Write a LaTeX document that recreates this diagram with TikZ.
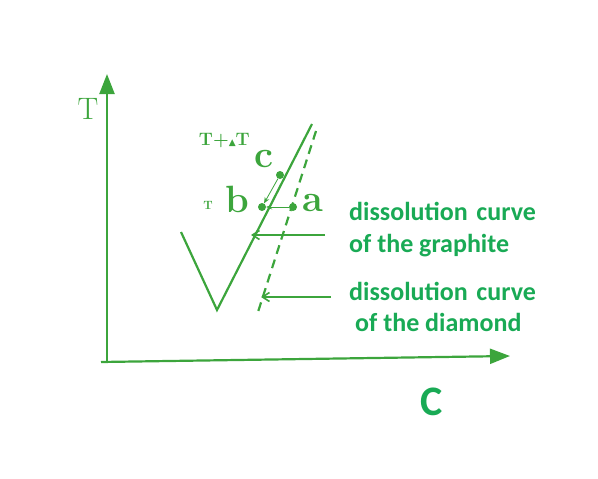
\documentclass[tikz,border=0pt]{standalone}
\usepackage{fontspec}
\newfontfamily\labelfont{Carlito}
\newfontfamily\symfont{DejaVu Sans}
\usetikzlibrary{arrows.meta}
\definecolor{lgreen}{RGB}{60,165,60}
\definecolor{tgreen}{RGB}{25,170,85}
\tikzset{
  curve/.style={draw=lgreen, line width=2.2pt},
  axis/.style={draw=lgreen, line width=2.2pt, -{Triangle[length=20pt,width=15pt]}},
  thin arrow/.style={draw=lgreen, line width=0.8pt, -{Stealth[length=6pt,width=5pt]}},
  open arrow/.style={draw=lgreen, line width=1.6pt, -{Straight Barb[length=7pt,width=9pt]}},
  pt/.style={circle, fill=lgreen, inner sep=0pt, minimum size=8pt},
  desc/.style={text=tgreen, font=\labelfont\bfseries\fontsize{26}{26}\selectfont, anchor=base west, inner sep=0pt},
  letter/.style={text=lgreen, font=\bfseries\fontsize{38}{38}\selectfont, inner sep=0pt},
}
\begin{document}
\begin{tikzpicture}[x=1pt,y=-1pt]
\useasboundingbox (0,0) rectangle (598,479);
% axes
\coordinate (O) at (107,362);
\coordinate (Ytop) at (107,74);
\coordinate (Xleft) at (101,362);
\coordinate (Xright) at (510,356);
\draw[axis] (O) -- (Ytop);
\draw[axis] (Xleft) -- (Xright);
\node[text=lgreen, font=\fontsize{31}{31}\selectfont, inner sep=0pt] (Tlab) at (88,109) {T};
\node[text=tgreen, font=\labelfont\bfseries\fontsize{42}{42}\selectfont, inner sep=0pt] (Clab) at (432,402) {C};
% graphite curve
\coordinate (g1) at (181,232);
\coordinate (g2) at (217,310);
\coordinate (g3) at (312,124);
\draw[curve, line join=miter] (g1) -- (g2) -- (g3);
% diamond curve
\coordinate (d1) at (316,131);
\coordinate (d2) at (258,312);
\draw[curve, dash pattern=on 9pt off 6pt] (d1) -- (d2);
% points
\node[pt] (c) at (280,175) {};
\node[pt] (b) at (262,207) {};
\node[pt] (a) at (293,207) {};
\draw[thin arrow] (c) -- (b);
\draw[thin arrow] (a) -- (b);
% letters
\node[letter] (clet) at (264,159) {c};
\node[letter] (blet) at (237,199) {b};
\node[letter] (alet) at (313,203) {a};
\node[text=lgreen, font=\bfseries\fontsize{12}{12}\selectfont, inner sep=0pt] (Tsmall) at (208,205) {T};
\node[text=lgreen, font=\bfseries\fontsize{18}{18}\selectfont, inner sep=0pt, anchor=east] (TdT) at (250,141) {T+{\symfont\fontsize{9}{9}\selectfont ▲}T};
% descriptions
\node[desc] (graph1) at (349,220) {dissolution\,\,curve};
\node[desc] (graph2) at (349,252) {of the graphite};
\node[desc] (diam1) at (349,300) {dissolution\,\,curve};
\node[desc] (diam2) at (355,331) {of the diamond};
\coordinate (ga) at (251,235);
\coordinate (gs) at (325,235);
\coordinate (da) at (261,297);
\coordinate (ds) at (331,297);
\draw[open arrow] (gs) -- (ga);
\draw[open arrow] (ds) -- (da);
\end{tikzpicture}
\end{document}
